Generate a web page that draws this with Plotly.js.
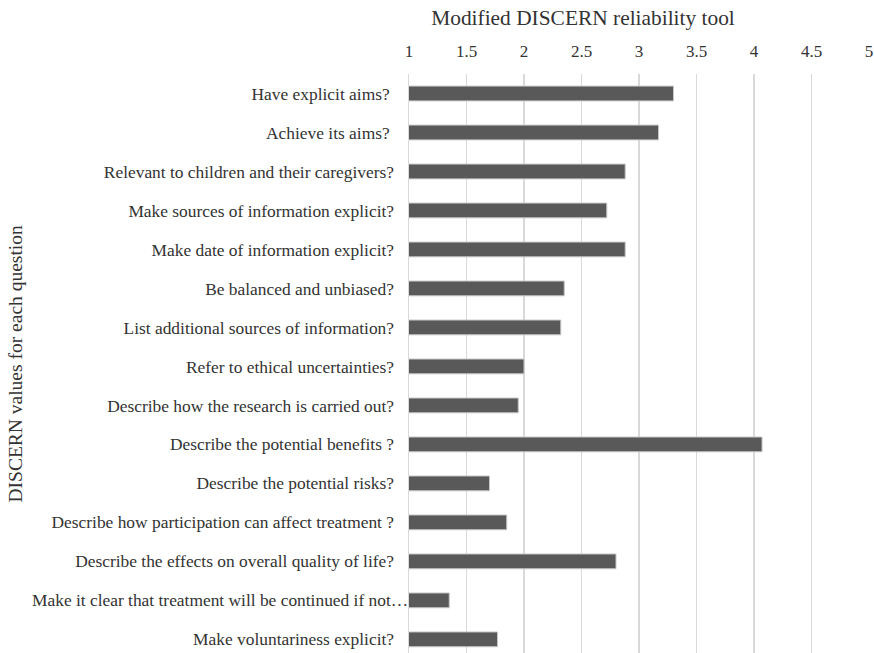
<!DOCTYPE html>
<html><head><meta charset="utf-8">
<script src="https://cdn.plot.ly/plotly-3.0.1.min.js"></script>
<style>body{margin:0;padding:0;background:#fff}#chart{width:874px;height:653px}</style>
</head><body><div id="chart"></div>
<script>
const questions = [
  "Have explicit aims? ",
  "Achieve its aims? ",
  "Relevant to children and their caregivers?",
  "Make sources of information explicit?",
  "Make date of information explicit?",
  "Be balanced and unbiased?",
  "List additional sources of information?",
  "Refer to ethical uncertainties?",
  "Describe how the research is carried out?",
  "Describe the potential benefits ?",
  "Describe the potential risks?",
  "Describe how participation can affect treatment ?",
  "Describe the effects on overall quality of life?",
  "Make it clear that treatment will be continued if not…",
  "Make voluntariness explicit?"
];
const scores = [3.30, 3.17, 2.88, 2.72, 2.88, 2.35, 2.32, 2.00, 1.95, 4.07, 1.70, 1.85, 2.80, 1.35, 1.77];
const xTicks = [1, 1.5, 2, 2.5, 3, 3.5, 4, 4.5, 5];
const xTitle = "Modified DISCERN reliability tool";
const yTitle = "DISCERN values for each question";
const truncatedIndex = 13; // label that runs up to the axis in the original

const font = "Liberation Serif, DejaVu Serif, serif";
const txt = '#333333';
const trace = {
  type: 'bar', orientation: 'h',
  y: questions, x: scores,
  marker: {color: '#595959', line: {color: '#c8c8c8', width: 1}},
  width: 0.38,
  hoverinfo: 'x+y'
};
const tickText = questions.map((q, i) => i === truncatedIndex ? '' : q);
const layout = {
  width: 874, height: 653,
  margin: {l: 409, r: 5, t: 74, b: 0},
  paper_bgcolor: '#fff', plot_bgcolor: '#fff',
  showlegend: false,
  font: {family: font, size: 17, color: txt},
  title: {text: xTitle, x: 583/874, xanchor: 'center', xref: 'container', y: 1 - 18/653, yanchor: 'middle', yref: 'container',
          font: {family: font, size: 21.4, color: txt}},
  xaxis: {
    side: 'top', range: [1, 5], tickvals: xTicks, ticktext: xTicks.map(String),
    showgrid: true, gridcolor: '#d9d9d9', gridwidth: 1.5,
    zeroline: false, showline: false, ticks: '',
    ticklabelstandoff: 13,
    tickfont: {family: font, size: 17, color: txt},
    fixedrange: true
  },
  yaxis: {
    type: 'category', categoryorder: 'array', categoryarray: questions,
    tickvals: questions, ticktext: tickText,
    range: [14.35, -0.5],
    showgrid: false, zeroline: false,
    showline: true, linecolor: '#d9d9d9', linewidth: 1.5,
    ticks: '',
    ticklabelstandoff: 10,
    tickfont: {family: font, size: 17.4, color: txt},
    fixedrange: true
  },
  annotations: [{
    text: yTitle, xref: 'paper', yref: 'paper', x: -(409 - 15) / 460, y: 0.5,
    xanchor: 'center', yanchor: 'middle', textangle: -90, showarrow: false,
    font: {family: font, size: 19.5, color: txt}
  }, {
    text: questions[truncatedIndex], xref: 'paper', yref: 'y', x: 0, y: questions[truncatedIndex],
    xanchor: 'right', yanchor: 'middle', showarrow: false, xshift: 1,
    font: {family: font, size: 17.4, color: txt}
  }]
};
Plotly.newPlot('chart', [trace], layout, {displayModeBar: false, staticPlot: true});
</script></body></html>
